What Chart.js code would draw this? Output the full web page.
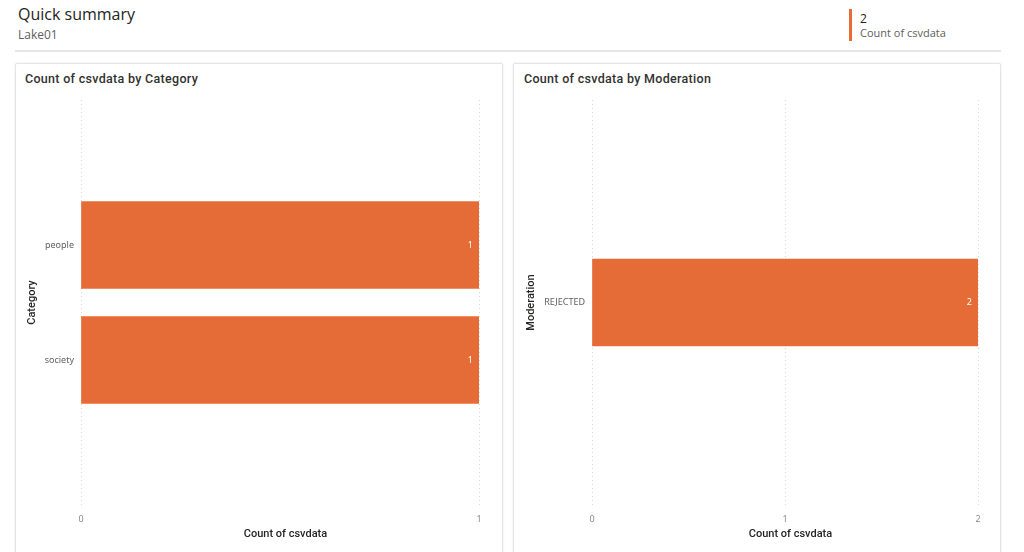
<!DOCTYPE html>
<html>
<head>
<meta charset="utf-8">
<script src="https://cdn.jsdelivr.net/npm/chart.js@4/dist/chart.umd.min.js"></script>
<style>
  html,body{margin:0;padding:0;background:#fff;width:1024px;height:552px;overflow:hidden;font-family:"Open Sans",sans-serif;}
  .abs{position:absolute;}
  #title{left:18px;top:3px;font-size:16px;color:#252423;}
  #sub{left:18px;top:26px;font-size:12px;color:#605e5c;}
  #divider{left:15px;top:50px;width:986px;height:2px;background:#e6e6e6;}
  #kpibar{left:849px;top:9px;width:3px;height:32px;background:#E66C37;}
  #kpival{left:860px;top:10px;font-size:12px;color:#252423;}
  #kpilab{left:860px;top:25px;font-size:11px;color:#605e5c;}
  .card{top:63px;width:486px;height:500px;background:#fff;border:1px solid #e4e4e4;border-radius:2px;box-shadow:0 0 3px rgba(0,0,0,0.08);}
  .ctitle{font-family:Roboto,sans-serif;font-weight:500;font-size:12.5px;color:#323130;letter-spacing:0.3px;}
  .cv{top:92px;width:488px;height:460px;}
</style>
</head>
<body>
<div id="title" class="abs">Quick summary</div>
<div id="sub" class="abs">Lake01</div>
<div id="divider" class="abs"></div>
<div id="kpibar" class="abs"></div>
<div id="kpival" class="abs">2</div>
<div id="kpilab" class="abs">Count of csvdata</div>

<div class="abs card" style="left:15px;"></div>
<div class="abs card" style="left:513px;"></div>
<div class="abs ctitle" style="left:25px;top:71px;">Count of csvdata by Category</div>
<div class="abs ctitle" style="left:524px;top:71px;">Count of csvdata by Moderation</div>

<div class="abs cv" style="left:15px;"><canvas id="c1" width="488" height="460"></canvas></div>
<div class="abs cv" style="left:513px;"><canvas id="c2" width="488" height="460"></canvas></div>

<script>
const categoryLabels = ['people', 'society'];
const categoryCounts = [1, 1];
const categoryTicks = [0, 1];

const moderationLabels = ['REJECTED'];
const moderationCounts = [2];
const moderationTicks = [0, 1, 2];

const kpiValue = 2;
document.getElementById('kpival').textContent = String(kpiValue);

const BAR = '#E66C37';

const dataLabelPlugin = {
  id: 'dataLabels',
  afterDatasetsDraw(chart) {
    const ctx = chart.ctx;
    const meta = chart.getDatasetMeta(0);
    ctx.save();
    ctx.fillStyle = '#ffffff';
    ctx.font = '9px "Noto Sans", sans-serif';
    ctx.textAlign = 'right';
    ctx.textBaseline = 'middle';
    meta.data.forEach((el, i) => {
      const v = chart.data.datasets[0].data[i].x;
      ctx.fillText(String(v), el.x - 6, el.y);
    });
    ctx.restore();
  }
};

function makeChart(id, labels, counts, ticks, yTitle, yMin, yMax, leftW, rightPad, yTitlePad) {
  const data = labels.map((l, i) => ({ x: counts[i], y: i }));
  return new Chart(document.getElementById(id), {
    type: 'bar',
    data: { datasets: [{ data, backgroundColor: BAR, barThickness: 87, borderWidth: 0 }] },
    plugins: [dataLabelPlugin],
    options: {
      indexAxis: 'y',
      responsive: false,
      animation: false,
      layout: { padding: { top: 8, right: rightPad, left: 0, bottom: 11 } },
      plugins: { legend: { display: false }, tooltip: { enabled: false } },
      scales: {
        x: {
          type: 'linear',
          min: ticks[0],
          max: ticks[ticks.length - 1],
          afterBuildTicks(scale) { scale.ticks = ticks.map(v => ({ value: v })); },
          afterFit(scale) { scale.height = 36; },
          border: { display: false, dash: [1, 3] },
          grid: { color: '#d6d6d6', lineWidth: 1, drawTicks: false },
          ticks: { color: '#8a8886', font: { family: '"Noto Sans", sans-serif', size: 9 }, padding: 9 },
          title: { display: true, text: '    Count of csvdata', color: '#252423',
                   font: { family: 'Roboto, sans-serif', size: 11, weight: '500' }, padding: { top: 2, bottom: 0 } }
        },
        y: {
          type: 'linear',
          reverse: true,
          offset: false,
          min: yMin,
          max: yMax,
          afterBuildTicks(scale) { scale.ticks = labels.map((l, i) => ({ value: i })); },
          afterFit(scale) { scale.width = leftW; scale.paddingTop = 0; scale.paddingBottom = 0; },
          border: { display: false },
          grid: { display: false, drawTicks: false },
          ticks: { color: '#605e5c', font: { family: '"Noto Sans", sans-serif', size: 9 }, padding: 7,
                   callback: (v) => labels[v] !== undefined ? labels[v] : '' },
          title: { display: true, text: yTitle, color: '#252423',
                   font: { family: 'Roboto, sans-serif', size: 11, weight: '500' }, padding: { top: yTitlePad, bottom: 0 } }
        }
      }
    }
  });
}

const c1 = makeChart('c1', categoryLabels, categoryCounts, categoryTicks, 'Category', -1.26, 2.26, 66, 24, 11);
const c2 = makeChart('c2', moderationLabels, moderationCounts, moderationTicks, 'Moderation', -1.76, 1.76, 79, 23, 12);
</script>
</body>
</html>
